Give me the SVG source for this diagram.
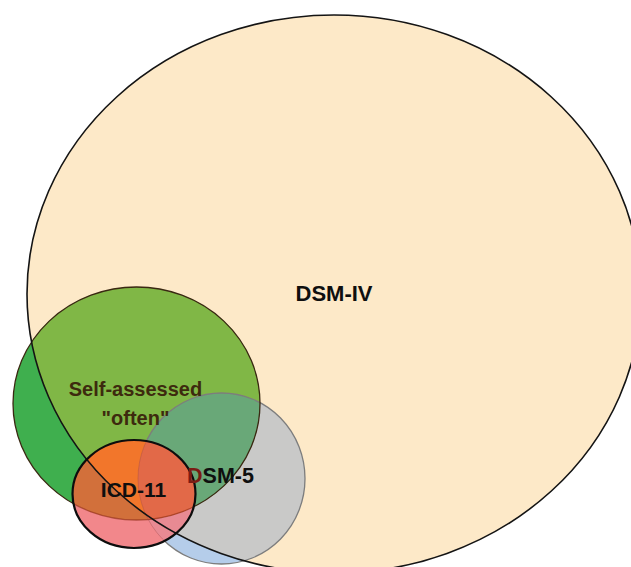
<svg xmlns="http://www.w3.org/2000/svg" width="631" height="567" viewBox="0 0 631 567">
<defs>
  <clipPath id="cIV"><ellipse cx="334" cy="294" rx="307" ry="279"/></clipPath>
  <clipPath id="cGreen"><ellipse cx="136.5" cy="403.5" rx="123.5" ry="116.5"/></clipPath>
  <clipPath id="cGrey"><ellipse cx="221.5" cy="478.5" rx="83.5" ry="85.5"/></clipPath>
  <clipPath id="cRed"><ellipse cx="134" cy="494" rx="61.5" ry="54"/></clipPath>
  <style>
    .lbl { font-family: "Liberation Sans", Arial, sans-serif; font-weight: bold; text-anchor: middle; }
    .dark { fill: #0f0f0f; }
    .brown { fill: #3d2a0e; }
  </style>
</defs>
<rect width="631" height="567" fill="#ffffff"/>

<g id="dsm-iv">
  <ellipse cx="334" cy="294" rx="307" ry="279" fill="#FDE9C8"/>
</g>

<g id="dsm-5">
  <ellipse cx="221.5" cy="478.5" rx="83.5" ry="85.5" fill="#B5CDEA"/>
  <g clip-path="url(#cIV)">
    <ellipse cx="221.5" cy="478.5" rx="83.5" ry="85.5" fill="#C9C9C8"/>
  </g>
</g>

<g id="self-assessed">
  <ellipse cx="136.5" cy="403.5" rx="123.5" ry="116.5" fill="#3FAF4E"/>
  <g clip-path="url(#cIV)">
    <ellipse cx="136.5" cy="403.5" rx="123.5" ry="116.5" fill="#80B746"/>
  </g>
  <g clip-path="url(#cGrey)">
    <ellipse cx="136.5" cy="403.5" rx="123.5" ry="116.5" fill="#69A878"/>
  </g>
  <ellipse cx="221.5" cy="478.5" rx="83.5" ry="85.5" fill="none" stroke="#7d7d7d" stroke-width="1.3"/>
  <ellipse cx="136.5" cy="403.5" rx="123.5" ry="116.5" fill="none" stroke="#3a2812" stroke-width="1.3"/>
</g>

<g id="icd-11">
  <ellipse cx="134" cy="494" rx="61.5" ry="54" fill="#F2878B"/>
  <g clip-path="url(#cRed)">
    <g clip-path="url(#cGrey)">
      <rect x="60" y="420" width="150" height="140" fill="#E88A93"/>
    </g>
    <g clip-path="url(#cGreen)">
      <rect x="60" y="420" width="150" height="140" fill="#D2703B"/>
      <g clip-path="url(#cIV)">
        <rect x="60" y="420" width="150" height="140" fill="#F2762B"/>
      </g>
      <g clip-path="url(#cGrey)">
        <rect x="60" y="420" width="150" height="140" fill="#E26948"/>
      </g>
    </g>
    <ellipse cx="136.5" cy="403.5" rx="123.5" ry="116.5" fill="none" stroke="#8a2a12" stroke-width="1.3" stroke-opacity="0.6"/>
    <ellipse cx="221.5" cy="478.5" rx="83.5" ry="85.5" fill="none" stroke="#9a4a4a" stroke-width="1" stroke-opacity="0.35"/>
  </g>
</g>

<g id="outlines">
  <ellipse cx="334" cy="294" rx="307" ry="279" fill="none" stroke="#141414" stroke-width="1.6"/>
  <ellipse cx="134" cy="494" rx="61.5" ry="54" fill="none" stroke="#0d0d0d" stroke-width="2.2"/>
</g>

<g id="connectors"/>

<g id="labels">
  <text id="label-dsm-iv" class="lbl dark" x="334" y="301" font-size="22">DSM-IV</text>
  <text id="label-self-assessed" class="lbl brown" x="135.5" y="396" font-size="20">Self-assessed<tspan x="135.5" y="425">"often"</tspan></text>
  <text id="label-dsm-5" class="lbl dark" x="220.5" y="483" font-size="21.5"><tspan fill="#7a1c14">D</tspan>SM-5</text>
  <text id="label-icd-11" class="lbl dark" x="133.5" y="497" font-size="21">ICD-11</text>
</g>
</svg>
